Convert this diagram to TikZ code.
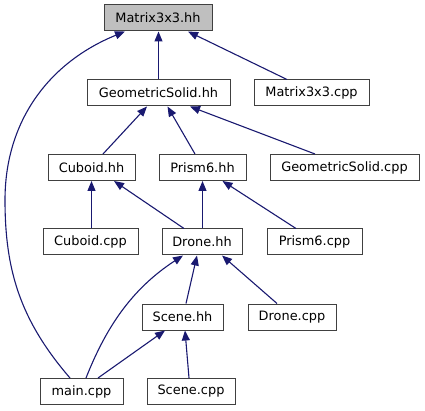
\documentclass[tikz,border=0pt]{standalone}
\usepackage{fontspec}
\setmainfont{DejaVu Sans}
\usetikzlibrary{arrows.meta}
\definecolor{edgeblue}{HTML}{191970}
\definecolor{boxline}{HTML}{404040}
\definecolor{rootfill}{HTML}{BFBFBF}

\begin{document}
\begin{tikzpicture}[x=1pt,y=-1pt,
  file/.style={draw=boxline,line width=1pt,fill=white,minimum height=26pt,
    inner xsep=0pt,font=\fontsize{12.9}{15}\selectfont},
  dep/.style={draw=edgeblue,line width=1.1pt,
    -{Triangle[length=10pt,width=8pt,fill=edgeblue]}}]
  \useasboundingbox (0,0) rectangle (425,411);

  % ===== Files =====
  \node[file,fill=rootfill,minimum width=108pt] (m3hh) at (158,18) {Matrix3x3.hh};
  \node[file,minimum width=143pt] (gshh) at (158.5,93) {GeometricSolid.hh};
  \node[file,minimum width=115pt] (m3cpp) at (311.5,93) {Matrix3x3.cpp};
  \node[file,minimum width=87pt] (cubhh) at (91.5,167.5) {Cuboid.hh};
  \node[file,minimum width=87pt] (p6hh) at (202.5,167.5) {Prism6.hh};
  \node[file,minimum width=149pt] (gscpp) at (344.5,167.5) {GeometricSolid.cpp};
  \node[file,minimum width=95pt] (cubcpp) at (90.5,242) {Cuboid.cpp};
  \node[file,minimum width=80pt] (drhh) at (202,242) {Drone.hh};
  \node[file,minimum width=95pt] (p6cpp) at (314.5,242) {Prism6.cpp};
  \node[file,minimum width=81pt] (schh) at (182.5,317) {Scene.hh};
  \node[file,minimum width=88pt] (drcpp) at (292,317) {Drone.cpp};
  \node[file,minimum width=83pt] (main) at (81.5,391.5) {main.cpp};
  \node[file,minimum width=88pt] (sccpp) at (191,391.5) {Scene.cpp};

  % ===== Includes =====
  \draw[dep] (gshh.north) -- ([xshift=0.5pt]m3hh.south);
  \draw[dep] ([xshift=-24.5pt]m3cpp.north) -- ([xshift=30pt]m3hh.south);
  \draw[dep] ([xshift=-11.5pt]main.north) .. controls (20,320) and (5,270) .. (5,200)
    .. controls (5,120) and (50,62) .. ([xshift=-33pt]m3hh.south);
  \draw[dep] ([xshift=11.5pt]cubhh.north) -- ([xshift=-11.5pt]gshh.south);
  \draw[dep] ([xshift=-7.5pt]p6hh.north) -- ([xshift=9pt]gshh.south);
  \draw[dep] ([xshift=-29.5pt]gscpp.north) -- ([xshift=31.5pt]gshh.south);
  \draw[dep] ([xshift=1pt]cubcpp.north) -- (cubhh.south);
  \draw[dep] ([xshift=-18pt]drhh.north) -- ([xshift=22.5pt]cubhh.south);
  \draw[dep] ([xshift=0.5pt]drhh.north) -- (p6hh.south);
  \draw[dep] ([xshift=-18.5pt]p6cpp.north) -- ([xshift=20pt]p6hh.south);
  \draw[dep] ([xshift=3.5pt]schh.north) -- ([xshift=-5pt]drhh.south);
  \draw[dep] ([xshift=-15pt]drcpp.north) -- ([xshift=20pt]drhh.south);
  \draw[dep] ([xshift=4.5pt]main.north) .. controls (105,330) and (130,290) .. ([xshift=-19pt]drhh.south);
  \draw[dep] ([xshift=16.5pt]main.north) -- ([xshift=-17.5pt]schh.south);
  \draw[dep] ([xshift=-2pt]sccpp.north) -- ([xshift=2.5pt]schh.south);
\end{tikzpicture}
\end{document}
